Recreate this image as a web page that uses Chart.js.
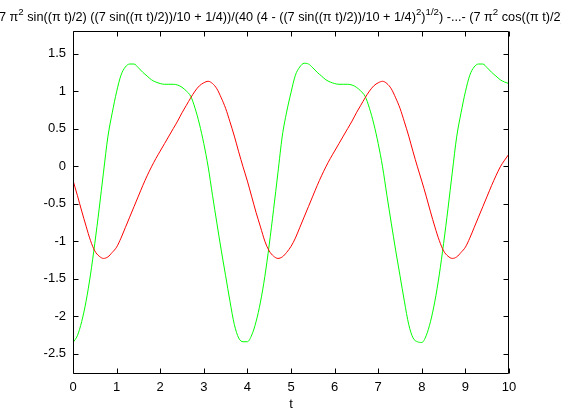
<!DOCTYPE html>
<html>
<head>
<meta charset="utf-8">
<script src="https://cdn.jsdelivr.net/npm/chart.js@4"></script>
<style>
  html, body { margin: 0; padding: 0; background: #fff; }
  canvas { display: block; }
</style>
</head>
<body>
<canvas id="c" width="561" height="420"></canvas>
<script>
// sample times along t
const tValues = [
  0, 0.1, 0.2, 0.3, 0.4, 0.5, 0.6, 0.7, 0.8, 0.9,
  1, 1.1, 1.2, 1.3, 1.4, 1.5, 1.6, 1.7, 1.8, 1.9,
  2, 2.1, 2.2, 2.3, 2.4, 2.5, 2.6, 2.7, 2.8, 2.9,
  3, 3.1, 3.2, 3.3, 3.4, 3.5, 3.6, 3.7, 3.8, 3.9,
  4, 4.1, 4.2, 4.3, 4.4, 4.5, 4.6, 4.7, 4.8, 4.9,
  5, 5.1, 5.2, 5.3, 5.4, 5.5, 5.6, 5.7, 5.8, 5.9,
  6, 6.1, 6.2, 6.3, 6.4, 6.5, 6.6, 6.7, 6.8, 6.9,
  7, 7.1, 7.2, 7.3, 7.4, 7.5, 7.6, 7.7, 7.8, 7.9,
  8, 8.1, 8.2, 8.3, 8.4, 8.5, 8.6, 8.7, 8.8, 8.9,
  9, 9.1, 9.2, 9.3, 9.4, 9.5, 9.6, 9.7, 9.8, 9.9,
  10
];

// red curve
const redValues = [
  -0.19, -0.39, -0.60, -0.80, -0.99, -1.13, -1.20, -1.23, -1.21, -1.15,
  -1.08, -0.96, -0.82, -0.68, -0.54, -0.40, -0.26, -0.13, -0.01, 0.10,
  0.20, 0.30, 0.40, 0.50, 0.60, 0.71, 0.81, 0.91, 1.00, 1.07,
  1.11, 1.13, 1.10, 1.03, 0.91, 0.77, 0.59, 0.40, 0.19, -0.01,
  -0.20, -0.41, -0.62, -0.81, -1.00, -1.13, -1.20, -1.23, -1.21, -1.15,
  -1.07, -0.96, -0.82, -0.68, -0.54, -0.40, -0.26, -0.13, -0.01, 0.10,
  0.20, 0.30, 0.40, 0.50, 0.60, 0.71, 0.81, 0.91, 1.00, 1.07,
  1.11, 1.13, 1.10, 1.03, 0.91, 0.77, 0.59, 0.40, 0.19, -0.01,
  -0.20, -0.40, -0.61, -0.81, -0.99, -1.13, -1.20, -1.23, -1.21, -1.15,
  -1.08, -0.96, -0.82, -0.68, -0.54, -0.40, -0.26, -0.13, -0.01, 0.08,
  0.16
];

// green curve
const greenValues = [
  -2.35, -2.26, -2.07, -1.80, -1.45, -1.03, -0.57, -0.08, 0.39, 0.71,
  0.99, 1.21, 1.32, 1.36, 1.36, 1.31, 1.25, 1.20, 1.15, 1.12,
  1.10, 1.09, 1.09, 1.09, 1.08, 1.05, 1.00, 0.93, 0.77, 0.56,
  0.30, -0.01, -0.39, -0.76, -1.12, -1.46, -1.80, -2.11, -2.29, -2.34,
  -2.34, -2.25, -2.07, -1.81, -1.47, -1.05, -0.58, -0.09, 0.40, 0.72,
  0.98, 1.21, 1.32, 1.37, 1.36, 1.31, 1.25, 1.20, 1.15, 1.12,
  1.10, 1.09, 1.09, 1.09, 1.08, 1.05, 1.00, 0.93, 0.77, 0.56,
  0.30, -0.01, -0.39, -0.76, -1.12, -1.46, -1.80, -2.11, -2.29, -2.34,
  -2.35, -2.26, -2.07, -1.80, -1.45, -1.03, -0.57, -0.08, 0.39, 0.71,
  0.99, 1.21, 1.32, 1.36, 1.36, 1.31, 1.25, 1.20, 1.15, 1.12,
  1.10
];

const xTicks = [0, 1, 2, 3, 4, 5, 6, 7, 8, 9, 10];
const yTicks = [-2.5, -2, -1.5, -1, -0.5, 0, 0.5, 1, 1.5];

// title pieces: [text, isSuperscript]
const titleParts = [
  ['7 \u03c0', false], ['2', true],
  [' sin((\u03c0 t)/2) ((7 sin((\u03c0 t)/2))/10 + 1/4))/(40 (4 - ((7 sin((\u03c0 t)/2))/10 + 1/4)', false],
  ['2', true], [')', false], ['1/2', true],
  [') -...- (7 \u03c0', false], ['2', true], [' cos((\u03c0 t)/2))', false],
];

const FONT = '"Liberation Sans", Arial, sans-serif';

const titlePlugin = {
  id: 'matlabTitle',
  afterDraw(chart) {
    const ctx = chart.ctx;
    ctx.save();
    ctx.fillStyle = '#000';
    ctx.textBaseline = 'alphabetic';
    let x = -1;
    titleParts.forEach(([txt, sup]) => {
      ctx.font = (sup ? '9.7px ' : '12.7px ') + FONT;
      ctx.fillText(txt, x, sup ? 15 : 21);
      x += ctx.measureText(txt).width;
    });
    ctx.restore();
  }
};

const framePlugin = {
  id: 'frame',
  afterDraw(chart) {
    const { ctx, chartArea: a, scales } = chart;
    const L = Math.round(a.left) + 0.5, R = Math.round(a.right) - 0.5;
    const T = Math.round(a.top) + 0.5, B = Math.round(a.bottom) - 0.5;
    ctx.save();
    ctx.strokeStyle = '#000';
    ctx.lineWidth = 1;
    ctx.beginPath();
    ctx.rect(L, T, R - L, B - T);
    xTicks.forEach(v => {
      const px = Math.round(scales.x.getPixelForValue(v)) + 0.5;
      ctx.moveTo(px, B); ctx.lineTo(px, B - 5);
      ctx.moveTo(px, T); ctx.lineTo(px, T + 5);
    });
    yTicks.forEach(v => {
      const py = Math.round(scales.y.getPixelForValue(v)) + 0.5;
      ctx.moveTo(L, py); ctx.lineTo(L + 5, py);
      ctx.moveTo(R, py); ctx.lineTo(R - 5, py);
    });
    ctx.stroke();
    ctx.restore();
  }
};

new Chart(document.getElementById('c'), {
  type: 'line',
  plugins: [titlePlugin, framePlugin],
  data: {
    datasets: [
      {
        data: tValues.map((x, i) => ({ x, y: redValues[i] })),
        borderColor: '#ff0000',
        borderWidth: 1,
        pointRadius: 0,
        cubicInterpolationMode: 'monotone',
      },
      {
        data: tValues.map((x, i) => ({ x, y: greenValues[i] })),
        borderColor: '#00ff00',
        borderWidth: 1,
        pointRadius: 0,
        cubicInterpolationMode: 'monotone',
      },
    ]
  },
  options: {
    responsive: false,
    animation: false,
    devicePixelRatio: 1,
    layout: {
      padding: { top: 31, right: 52, left: 0, bottom: 0 }
    },
    scales: {
      x: {
        type: 'linear',
        min: 0,
        max: 10,
        afterBuildTicks: (s) => { s.ticks = xTicks.map(value => ({ value })); },
        afterFit: (s) => { s.height = 46; },
        grid: { display: false, drawTicks: false },
        border: { display: false },
        ticks: {
          color: '#000',
          padding: 6,
          maxRotation: 0,
          autoSkip: false,
          font: { family: FONT, size: 13 },
          callback: (v) => String(v),
        },
        title: {
          display: true,
          text: 't',
          color: '#000',
          font: { family: FONT, size: 13 },
          padding: { top: 0, bottom: 8 },
        },
      },
      y: {
        min: -2.77,
        max: 1.8,
        afterBuildTicks: (s) => { s.ticks = yTicks.map(value => ({ value })); },
        afterFit: (s) => { s.width = 73; },
        grid: { display: false, drawTicks: false },
        border: { display: false },
        ticks: {
          color: '#000',
          padding: 7,
          autoSkip: false,
          font: { family: FONT, size: 13 },
          callback: (v) => String(v),
        },
      },
    },
    plugins: {
      legend: { display: false },
      tooltip: { enabled: false },
      title: { display: false },
    },
  },
});
</script>
</body>
</html>
